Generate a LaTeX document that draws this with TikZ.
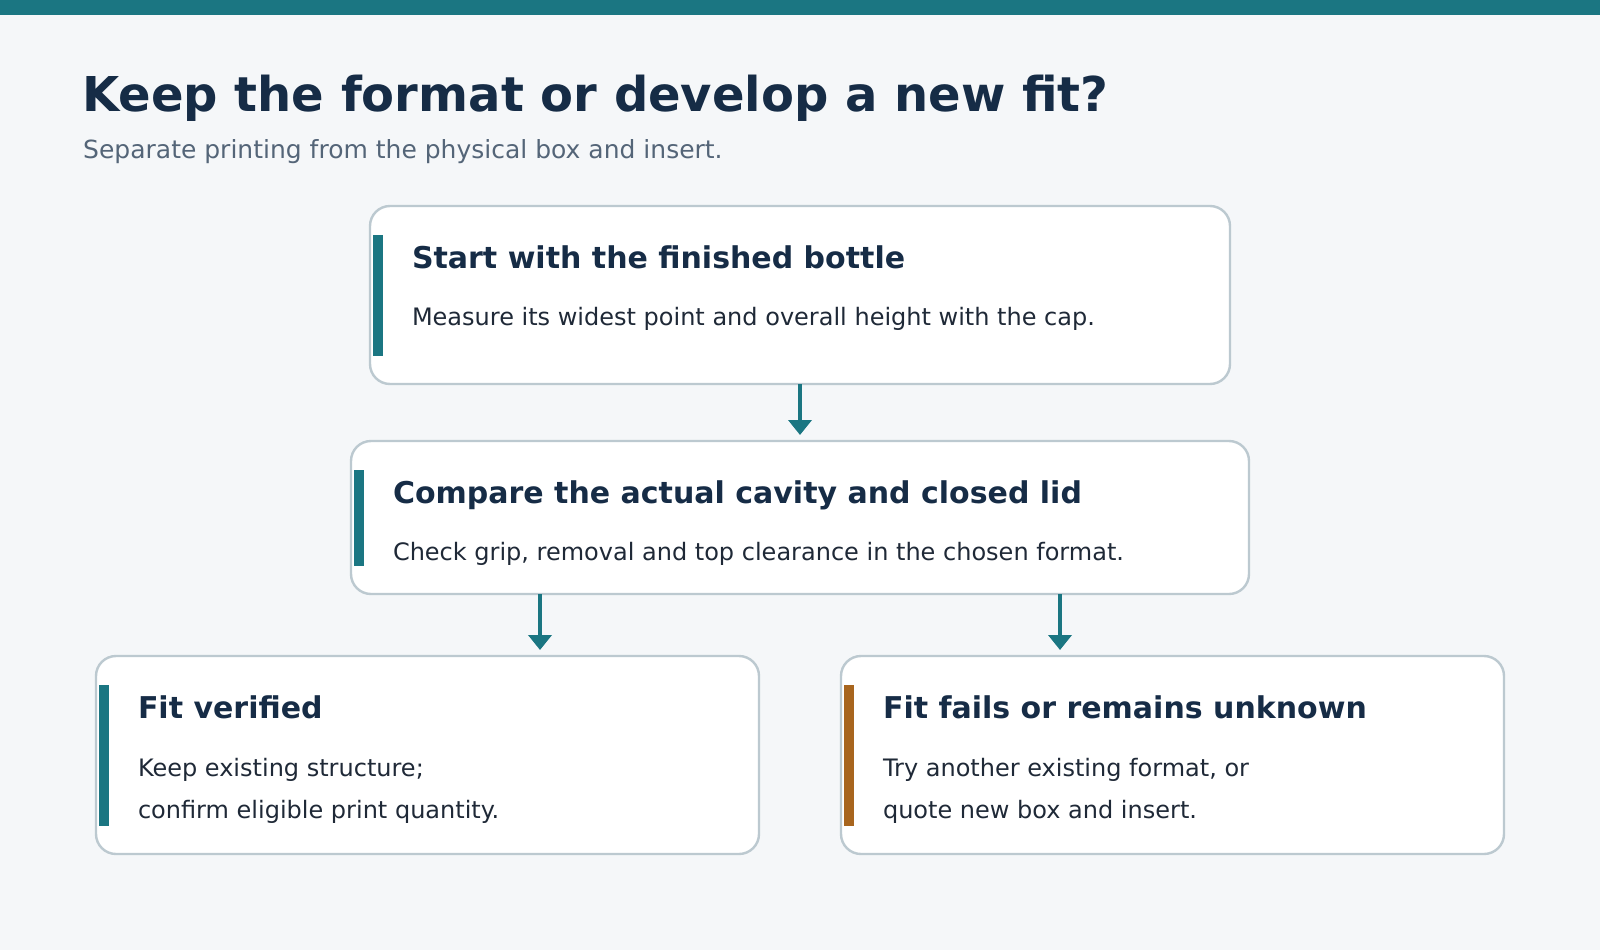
\documentclass[tikz,border=0pt]{standalone}
\usepackage{fontspec}
\setmainfont{DejaVu Sans}
\usetikzlibrary{arrows.meta,calc}
\definecolor{teal}{HTML}{1B7682}
\definecolor{navy}{HTML}{162C46}
\definecolor{subgray}{HTML}{546578}
\definecolor{bodytext}{HTML}{1F2937}
\definecolor{bordergray}{HTML}{BCC9D0}
\definecolor{bggray}{HTML}{F5F7F9}
\definecolor{amber}{HTML}{A8651E}
\tikzset{
  card/.style={draw=bordergray, line width=2.4pt, fill=white, rounded corners=20pt,
    rectangle, anchor=north west, inner sep=0pt, outer sep=0pt},
  cardtitle/.style={anchor=base west, inner sep=0pt, outer sep=0pt, text=navy,
    font=\fontsize{30}{36}\selectfont\bfseries},
  cardbody/.style={anchor=base west, inner sep=0pt, outer sep=0pt, text=bodytext,
    font=\fontsize{24}{28}\selectfont},
  arr/.style={draw=teal, line width=4.5pt, -{Triangle[length=15pt,width=23pt]}},
}
\begin{document}
\begin{tikzpicture}[x=1pt,y=-1pt]
\fill[bggray] (0,0) rectangle (1600,950);
\useasboundingbox (0,0) rectangle (1600,950);
\fill[teal] (0,0) rectangle (1600,15);
\node[anchor=base west, inner sep=0pt, text=navy, font=\fontsize{48}{56}\selectfont\bfseries] (title) at (82,111) {Keep the format or develop a new fit?};
\node[anchor=base west, inner sep=0pt, text=subgray, font=\fontsize{25}{30}\selectfont] (subtitle) at (83,158) {Separate printing from the physical box and insert.};
% cards
\node[card, minimum width=860pt, minimum height=178pt] (b1) at (370,206) {};
\node[card, minimum width=898pt, minimum height=153pt] (b2) at (351,441) {};
\node[card, minimum width=663pt, minimum height=198pt] (b3) at (96,656) {};
\node[card, minimum width=663pt, minimum height=198pt] (b4) at (841,656) {};
% accent bars
\fill[teal] ([shift={(3,29)}]b1.north west) rectangle ([shift={(13,-28)}]b1.south west);
\fill[teal] ([shift={(3,29)}]b2.north west) rectangle ([shift={(13,-28)}]b2.south west);
\fill[teal] ([shift={(3,29)}]b3.north west) rectangle ([shift={(13,-28)}]b3.south west);
\fill[amber] ([shift={(3,29)}]b4.north west) rectangle ([shift={(13,-28)}]b4.south west);
% texts
\node[cardtitle] (t1) at ([shift={(42,62)}]b1.north west) {Start with the finished bottle};
\node[cardbody] (d1) at ([shift={(42,119)}]b1.north west) {Measure its widest point and overall height with the cap.};
\node[cardtitle] (t2) at ([shift={(42,62)}]b2.north west) {Compare the actual cavity and closed lid};
\node[cardbody] (d2) at ([shift={(42,119)}]b2.north west) {Check grip, removal and top clearance in the chosen format.};
\node[cardtitle] (t3) at ([shift={(42,62)}]b3.north west) {Fit verified};
\node[cardbody] (d3a) at ([shift={(42,120)}]b3.north west) {Keep existing structure;};
\node[cardbody] (d3b) at ([shift={(42,162)}]b3.north west) {confirm eligible print quantity.};
\node[cardtitle] (t4) at ([shift={(42,62)}]b4.north west) {Fit fails or remains unknown};
\node[cardbody] (d4a) at ([shift={(42,120)}]b4.north west) {Try another existing format, or};
\node[cardbody] (d4b) at ([shift={(42,162)}]b4.north west) {quote new box and insert.};
% connectors
\coordinate (xa) at (540,0);
\coordinate (xb) at (1060,0);
\draw[arr] (b1.south) -- ([yshift=6pt]b2.north);
\draw[arr] (b2.south -| xa) -- ([yshift=6pt]b3.north -| xa);
\draw[arr] (b2.south -| xb) -- ([yshift=6pt]b4.north -| xb);
\end{tikzpicture}
\end{document}
